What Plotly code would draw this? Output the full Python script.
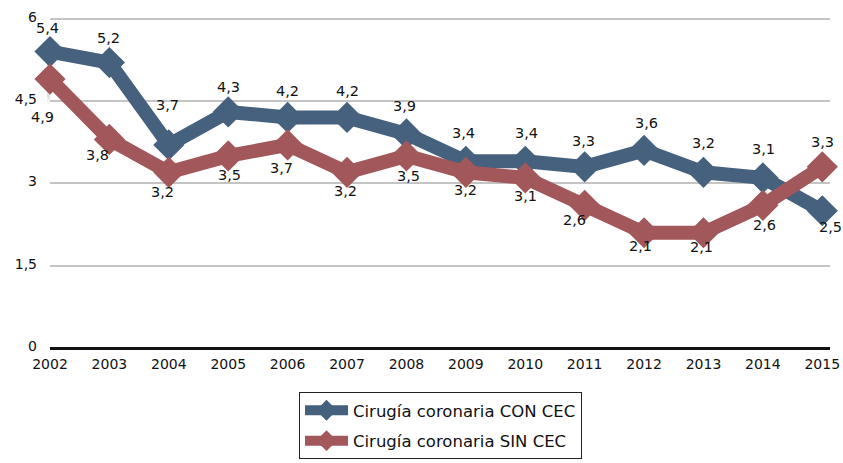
import plotly.graph_objects as go

years = [2002, 2003, 2004, 2005, 2006, 2007, 2008, 2009, 2010, 2011, 2012, 2013, 2014, 2015]
con_cec = [5.4, 5.2, 3.7, 4.3, 4.2, 4.2, 3.9, 3.4, 3.4, 3.3, 3.6, 3.2, 3.1, 2.5]
sin_cec = [4.9, 3.8, 3.2, 3.5, 3.7, 3.2, 3.5, 3.2, 3.1, 2.6, 2.1, 2.1, 2.6, 3.3]
y_ticks = [0, 1.5, 3, 4.5, 6]
y_tick_labels = ["0", "1,5", "3", "4,5", "6"]
series_names = ["Cirugía coronaria CON CEC", "Cirugía coronaria SIN CEC"]

BLUE = "#46617e"
RED = "#a2575a"
FONT = "DejaVu Sans, Liberation Sans, Arial, sans-serif"

# label offsets (pixels) – style only
con_shift = [(-3, 24), (-1, 25), (-1, 40), (0, 25), (0, 26), (0, 26), (-2, 28), (-2, 28),
             (1, 28), (-1, 26), (2, 27), (0, 29), (1, 29), (8, -16)]
sin_shift = [(-8, -38), (-12, -16), (-6, -20), (1, -19), (-6, -23), (-2, -19), (2, -20), (0, -18),
             (0, -18), (-10, -15), (-4, -13), (-2, -14), (2, -20), (0, 25)]

# layout geometry (pixels)
W, H = 843, 463
ML, MR, MT, MB = 47, 13, 17, 110
SH_X, SH_Y = 3, 5  # drop-shadow offset
pw, ph = W - ML - MR, H - MT - MB
X_RANGE = [2002, 2015.13]
Y_RANGE = [0, 6.03]


def fmt(v):
    return f"{v:.1f}".replace(".", ",")


fig = go.Figure()

# soft drop shadows (drawn on an offset, hidden subplot underneath)
for vals in (con_cec, sin_cec):
    for w, a in ((26, 0.05), (18, 0.08)):
        fig.add_trace(go.Scatter(
            x=years, y=vals, mode="lines", xaxis="x", yaxis="y",
            line=dict(color=f"rgba(0,0,0,{a})", width=w),
            showlegend=False, hoverinfo="skip", cliponaxis=False,
        ))

for name, vals, col, grp in [(series_names[0], con_cec, BLUE, "a"), (series_names[1], sin_cec, RED, "b")]:
    fig.add_trace(go.Scatter(
        x=years, y=vals, name=name, mode="lines+markers", legendgroup=grp,
        xaxis="x2", yaxis="y2",
        line=dict(color=col, width=14),
        marker=dict(symbol="diamond", size=24, color=col),
        cliponaxis=False,
    ))

annotations = []
for vals, shifts in [(con_cec, con_shift), (sin_cec, sin_shift)]:
    for x, v, (dx, dy) in zip(years, vals, shifts):
        annotations.append(dict(x=x, y=v, xref="x2", yref="y2", text=fmt(v), showarrow=False,
                                xshift=dx, yshift=dy,
                                font=dict(family=FONT, size=14.5, color="#111")))

fig.update_layout(
    width=W, height=H,
    margin=dict(l=ML, r=MR, t=MT, b=MB, autoexpand=False),
    paper_bgcolor="white", plot_bgcolor="white",
    font=dict(family=FONT, color="#111"),
    showlegend=True,
    legend=dict(x=(299 - ML) / pw, y=-(392 - (H - MB)) / ph, xanchor="left", yanchor="top",
                itemwidth=43, tracegroupgap=6, traceorder="grouped",
                bordercolor="#222", borderwidth=1, bgcolor="white",
                font=dict(size=16.5, family=FONT, color="#111")),
    annotations=annotations,
    xaxis=dict(domain=[0, 1 - SH_X / pw], range=X_RANGE, visible=False, fixedrange=True),
    yaxis=dict(domain=[0, 1 - SH_Y / ph], range=Y_RANGE, visible=False, fixedrange=True),
    xaxis2=dict(domain=[SH_X / pw, 1], range=X_RANGE, anchor="y2",
                tickvals=years, ticktext=[str(y) for y in years],
                showgrid=False, zeroline=False, showline=False, ticks="",
                ticklabelstandoff=6,
                tickfont=dict(size=14, family=FONT, color="#111")),
    yaxis2=dict(domain=[SH_Y / ph, 1], range=Y_RANGE, anchor="x2",
                tickvals=y_ticks, ticktext=y_tick_labels,
                showgrid=True, gridcolor="#c4c4c4", gridwidth=2,
                zeroline=True, zerolinecolor="#111", zerolinewidth=2.5,
                showline=False, ticks="", ticklabelstandoff=12, ticklabelshift=-2,
                tickfont=dict(size=14, family=FONT, color="#111")),
)

fig.write_html("out.html", config={"displayModeBar": False},
               post_script="document.body.style.margin='0';")
